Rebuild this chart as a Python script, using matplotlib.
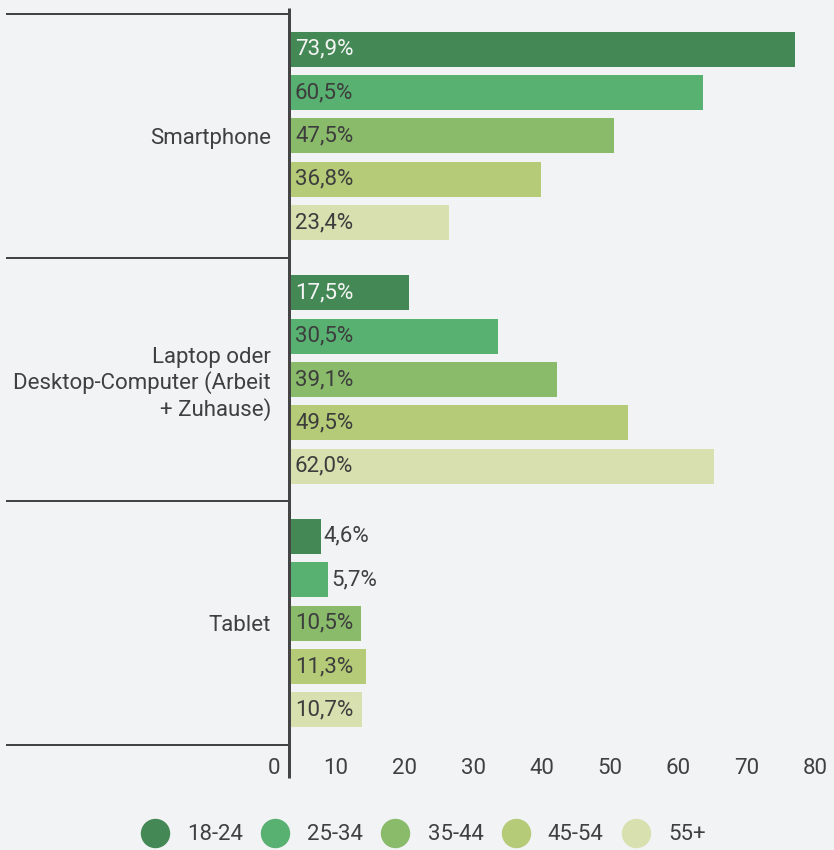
import matplotlib
matplotlib.use("Agg")
import matplotlib.pyplot as plt
from matplotlib.lines import Line2D
from matplotlib.transforms import ScaledTranslation
import numpy as np

plt.rcParams['font.family'] = ['Roboto', 'DejaVu Sans']

categories = ["Smartphone", "Laptop oder\nDesktop-Computer (Arbeit\n+ Zuhause)", "Tablet"]
series = ["18-24", "25-34", "35-44", "45-54", "55+"]
values = {
    "18-24": [73.9, 17.5, 4.6],
    "25-34": [60.5, 30.5, 5.7],
    "35-44": [47.5, 39.1, 10.5],
    "45-54": [36.8, 49.5, 11.3],
    "55+":   [23.4, 62.0, 10.7],
}
xticks = [0, 10, 20, 30, 40, 50, 60, 70, 80]

colors = ["#448955", "#58b071", "#89bb6b", "#b5cb77", "#d8e0b0"]
label_colors = ["#f5f5f5", "#3d3d3d", "#3d3d3d", "#3d3d3d", "#3d3d3d"]
bg = "#f2f3f5"
txt = "#404040"

W, H, DPI = 834, 850, 100
fig = plt.figure(figsize=(W / DPI, H / DPI), dpi=DPI, facecolor=bg)

# axes placement in pixels
ax_left, ax_right = 289, 837
ax_top, ax_bot = 14, 745
ax = fig.add_axes([ax_left / W, 1 - ax_bot / H, (ax_right - ax_left) / W, (ax_bot - ax_top) / H])
ax.set_facecolor(bg)

n = len(series)
step = 0.178
height = 0.1436
y = np.arange(len(categories))
for i, s in enumerate(series):
    offs = (i - (n - 1) / 2) * step
    bars = ax.barh(y + offs, values[s], height=height, color=colors[i], zorder=2)
    for b, v in zip(bars, values[s]):
        lab = f"{v:.1f}".replace(".", ",") + "%"
        yc = b.get_y() + b.get_height() / 2
        if v < 8:
            ax.annotate(lab, (v, yc), xytext=(3, 0), textcoords="offset pixels",
                        ha="left", va="center", fontsize=16, color=txt, zorder=3)
        else:
            ax.annotate(lab, (0, yc), xytext=(6, 0), textcoords="offset pixels",
                        ha="left", va="center", fontsize=16, color=label_colors[i], zorder=3)

ax.set_xlim(0, 80)
ax.set_ylim(len(categories) - 0.5, -0.5)

for sp in ax.spines.values():
    sp.set_visible(False)

# x ticks
ax.set_xticks(xticks)
ax.set_xticklabels([str(t) for t in xticks])
ax.tick_params(axis="x", length=0, pad=9, labelsize=16, labelcolor=txt)
for lbl in ax.get_xticklabels():
    lbl.set_horizontalalignment("right")
    lbl.set_transform(lbl.get_transform() + ScaledTranslation(-9 / DPI, 0, fig.dpi_scale_trans))

# y ticks: category labels and long separators
ax.set_yticks(y)
ax.set_yticklabels(categories)
ax.tick_params(axis="y", which="major", length=0, pad=13, labelsize=16, labelcolor=txt)
ax.set_yticks(np.arange(-0.5, len(categories), 1.0), minor=True)
ax.tick_params(axis="y", which="minor", length=283 * 72 / DPI, width=2 * 72 / DPI,
               color="#444444", direction="out")

# vertical axis line extending beyond axes
axh = ax_bot - ax_top
ax.plot([0, 0], [1 + 6 / axh, -(33 / axh)], transform=ax.transAxes, color="#444444",
        lw=3 * 72 / DPI, clip_on=False, zorder=4, solid_capstyle="butt")

# legend
handles = [Line2D([0], [0], marker="o", linestyle="none", markersize=28 * 72 / DPI,
                  markerfacecolor=c, markeredgecolor=c) for c in colors]
fig.legend(handles, series, loc="center", bbox_to_anchor=(423 / W, 1 - 835 / H),
           ncol=n, frameon=False, fontsize=16, labelcolor=txt, handlelength=1.3,
           handletextpad=0.8, columnspacing=0.8, borderpad=0, borderaxespad=0)

fig.savefig("out.png", dpi=DPI, facecolor=bg)
